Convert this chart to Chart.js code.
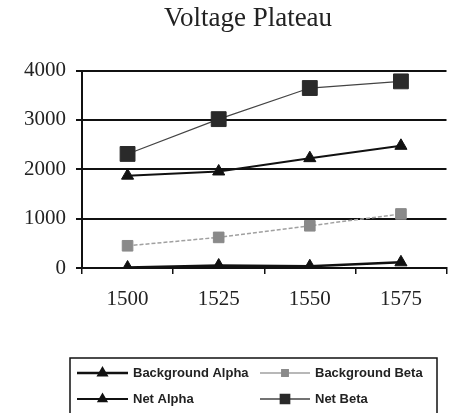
<!DOCTYPE html>
<html>
<head>
<meta charset="utf-8">
<script src="https://cdn.jsdelivr.net/npm/chart.js@4/dist/chart.umd.min.js"></script>
<style>
  html, body { margin: 0; padding: 0; background: #fff; }
  #wrap { width: 458px; height: 413px; }
</style>
</head>
<body>
<div id="wrap"><canvas id="chart" width="458" height="413"></canvas></div>
<script>
const voltages = ['1500', '1525', '1550', '1575'];
const backgroundAlpha = [10, 50, 35, 115];
const backgroundBeta = [450, 620, 855, 1095];
const netAlpha = [1870, 1955, 2225, 2475];
const netBeta = [2310, 3015, 3645, 3780];
const yTicks = [0, 1000, 2000, 3000, 4000];
const chartTitle = 'Voltage Plateau';

const serif = '"Liberation Serif", "Times New Roman", serif';
const sans = '"Liberation Sans", Arial, sans-serif';

const series = [
    { label: 'Background Alpha', data: backgroundAlpha, line: '#111', lineWidth: 2.5, dash: [], fill: '#111', style: 'triangle', radius: 7, legendRadius: 4.5 },
    { label: 'Background Beta', data: backgroundBeta, line: '#a0a0a0', lineWidth: 1.5, dash: [4, 2], fill: '#8a8a8a', style: 'rect', radius: 7.5, legendRadius: 4.5 },
    { label: 'Net Alpha', data: netAlpha, line: '#111', lineWidth: 2, dash: [], fill: '#111', style: 'triangle', radius: 7, legendRadius: 4.5 },
    { label: 'Net Beta', data: netBeta, line: '#444', lineWidth: 1.2, dash: [], fill: '#2a2a2a', style: 'rect', radius: 10.5, legendRadius: 6.5 }
];

// title and boxed 2x2 legend, placed like the original spreadsheet chart
const decorations = {
    id: 'decorations',
    afterDraw(chart) {
        const ctx = chart.ctx;
        ctx.save();
        ctx.fillStyle = '#222';
        ctx.font = '27px ' + serif;
        ctx.textAlign = 'center';
        ctx.textBaseline = 'middle';
        ctx.fillText(chartTitle, 248, 19);

        ctx.strokeStyle = '#111';
        ctx.lineWidth = 1.5;
        ctx.strokeRect(70, 358, 367, 70);
        const cols = [{ x0: 77, x1: 128, tx: 133 }, { x0: 260, x1: 310, tx: 315 }];
        const rows = [373, 399];
        series.forEach((s, i) => {
            const c = cols[i % 2];
            const y = rows[Math.floor(i / 2)];
            ctx.strokeStyle = s.line;
            ctx.lineWidth = Math.max(1.5, s.lineWidth);
            ctx.setLineDash([]);
            ctx.beginPath();
            ctx.moveTo(c.x0, y);
            ctx.lineTo(c.x1, y);
            ctx.stroke();
            ctx.fillStyle = s.fill;
            ctx.strokeStyle = s.fill;
            Chart.helpers.drawPoint(ctx, { pointStyle: s.style, radius: s.legendRadius, rotation: 0, borderWidth: 1 }, (c.x0 + c.x1) / 2, y);
            ctx.fillStyle = '#222';
            ctx.font = 'bold 13px ' + sans;
            ctx.textBaseline = 'middle';
            ctx.textAlign = 'left';
            ctx.fillText(s.label, c.tx, y);
        });
        ctx.restore();
    }
};

new Chart(document.getElementById('chart'), {
    type: 'line',
    data: {
        labels: voltages,
        datasets: series.map(s => ({
            label: s.label,
            data: s.data,
            borderColor: s.line,
            borderWidth: s.lineWidth,
            borderDash: s.dash,
            backgroundColor: s.fill,
            pointBackgroundColor: s.fill,
            pointBorderColor: s.fill,
            pointBorderWidth: 1,
            pointStyle: s.style,
            pointRadius: s.radius,
            tension: 0
        }))
    },
    options: {
        responsive: false,
        animation: false,
        events: [],
        layout: { padding: { top: 70.5, right: 6, bottom: 95, left: 0 } },
        plugins: {
            legend: { display: false },
            tooltip: { enabled: false },
            title: { display: false }
        },
        scales: {
            x: {
                offset: true,
                grid: { display: true, drawOnChartArea: false, drawTicks: true, tickLength: 6, offset: true, color: '#111', lineWidth: 1.5 },
                border: { display: true, color: '#111', width: 2 },
                ticks: { color: '#222', font: { family: serif, size: 21 }, padding: 13, maxRotation: 0 },
                afterFit(scale) { scale.height = 50; }
            },
            y: {
                min: 0,
                max: 4000,
                afterBuildTicks(scale) { scale.ticks = yTicks.map(v => ({ value: v })); },
                grid: { color: '#111', lineWidth: 2, tickLength: 6, drawTicks: true },
                border: { display: true, color: '#111', width: 2 },
                ticks: { color: '#222', font: { family: serif, size: 21 }, padding: 10, callback: v => String(v) },
                afterFit(scale) { scale.width = 82; }
            }
        }
    },
    plugins: [decorations]
});
</script>
</body>
</html>
